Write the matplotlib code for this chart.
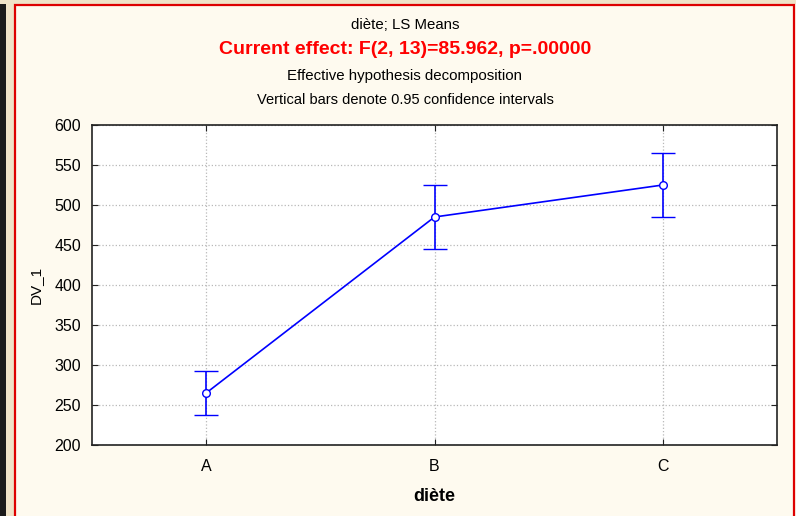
import matplotlib.pyplot as plt
from matplotlib.patches import Rectangle

plt.rcParams['font.family'] = ['Liberation Sans', 'DejaVu Sans']

groups = ['A', 'B', 'C']
ls_means = [265, 485, 525]
ci95 = [28, 40, 40]

BG = '#fefaef'
BLUE = '#0000ff'

fig = plt.figure(figsize=(7.96, 5.16), dpi=100, facecolor=BG)

# window frame: dark strip at the far left, beige margin, red border
fig.patches.append(Rectangle((0, 0), 6/796, 1, transform=fig.transFigure,
                             facecolor='#1a1a1a', edgecolor='none', zorder=0))
fig.patches.append(Rectangle((6/796, 0), 8/796, 1, transform=fig.transFigure,
                             facecolor='#efe3c8', edgecolor='none', zorder=0))
fig.patches.append(Rectangle((0, 1 - 4/516), 1, 4/516, transform=fig.transFigure,
                             facecolor='#efe3c8', edgecolor='none', zorder=0))
fig.patches.append(Rectangle((14.5/796, -0.01), (794 - 14.5)/796, 1 - 4.5/516 + 0.01,
                             transform=fig.transFigure, facecolor='none',
                             edgecolor='#dd0000', linewidth=1.6, zorder=1))

ax = fig.add_axes([92/796, 1 - 445/516, 685/796, 320/516])
ax.set_facecolor('white')

x = list(range(len(groups)))
ax.errorbar(x, ls_means, yerr=ci95, color=BLUE, lw=1.2, capsize=8.5, capthick=1.2,
            marker='o', markersize=5.5, markerfacecolor='white',
            markeredgecolor=BLUE, markeredgewidth=1, zorder=3)

ax.set_xlim(-0.5, 2.5)
ax.set_ylim(200, 600)
ax.set_xticks(x)
ax.set_xticklabels(groups)
ax.set_yticks(range(200, 601, 50))
ax.grid(True, color='#b8b8b8', linestyle=':', linewidth=0.9, zorder=0)
ax.tick_params(direction='in', length=4, labelsize=11.5, top=True, right=True,
               pad=8, color='#222222')
ax.tick_params(axis='x', pad=10)
for s in ax.spines.values():
    s.set_color('#222222')
    s.set_linewidth(1.2)

ax.set_ylabel('DV_1', fontsize=11, labelpad=8)
ax.set_xlabel('diète', fontsize=13, fontweight='bold', labelpad=10)

# header lines, centred over the whole window
cx = 405 / 796
fig.text(cx, 1 - 25/516, 'diète; LS Means', ha='center', va='center', fontsize=10.8)
fig.text(cx, 1 - 49/516, 'Current effect: F(2, 13)=85.962, p=.00000', ha='center',
         va='center', fontsize=14, fontweight='bold', color='#ff0000')
fig.text(cx, 1 - 76/516, 'Effective hypothesis decomposition', ha='center',
         va='center', fontsize=10.8)
fig.text(cx, 1 - 100/516, 'Vertical bars denote 0.95 confidence intervals',
         ha='center', va='center', fontsize=10.5)

plt.savefig('out.png', dpi=100, facecolor=BG)
